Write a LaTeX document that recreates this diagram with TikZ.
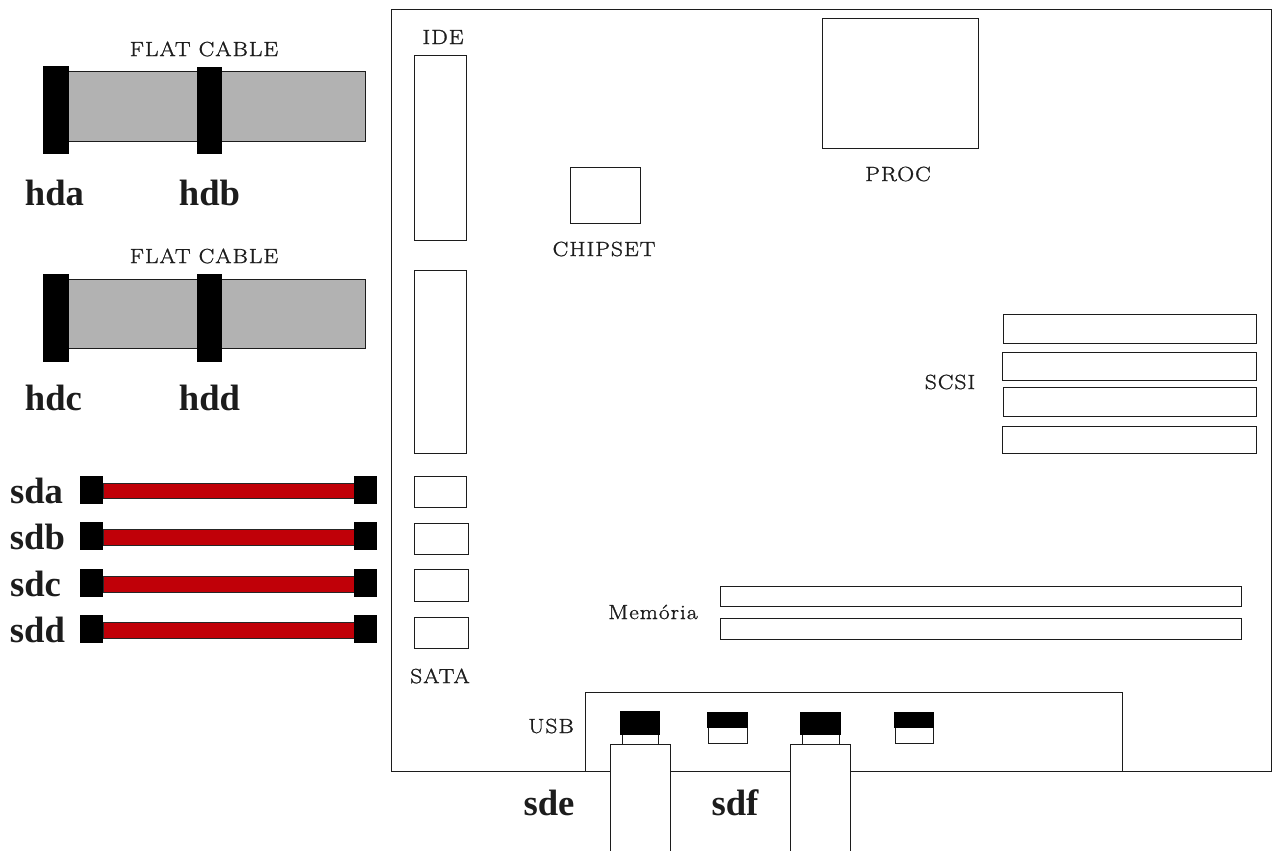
\documentclass[tikz,border=0pt]{standalone}
\usepackage{fontspec}
\newfontfamily\labfont[LetterSpace=5,FakeStretch=1.14,FakeBold=1.2]{Latin Modern Roman}
\newfontfamily\bigfont{Liberation Serif}
\definecolor{inkline}{HTML}{1C1C1C}
\definecolor{cablegrey}{HTML}{B2B2B2}
\definecolor{satared}{HTML}{C00008}
\tikzset{
  px/.style={x=0.75pt,y=-0.75pt},
  part/.style={draw=inkline,line width=0.75pt,fill=white,inner sep=0pt,outer sep=0pt,rectangle},
  plug/.style={fill=black,inner sep=0pt,outer sep=0pt,rectangle},
  flat/.style={part,fill=cablegrey},
  sata/.style={part,draw=black!85,fill=satared},
  lab/.style={inner sep=0pt,text=inkline,font=\labfont\fontsize{15.4pt}{17pt}\selectfont},
  big/.style={inner sep=0pt,text=inkline,font=\bigfont\bfseries\fontsize{27.5pt}{30pt}\selectfont},
}
% name, x1, y1, x2, y2, style
\newcommand{\pxbox}[6]{%
  \pgfmathsetmacro{\pbw}{(#4-#2)*0.75}%
  \pgfmathsetmacro{\pbh}{(#5-#3)*0.75}%
  \node[#6,minimum width=\pbw pt,minimum height=\pbh pt] (#1) at ({(#2+#4)/2},{(#3+#5)/2}) {};%
}
\begin{document}
\begin{tikzpicture}[px]
\useasboundingbox (0,0) rectangle (1273,850);
\clip (0,0) rectangle (1273,850);
% board
\pxbox{board}{391}{9}{1271}{771}{part}
\pxbox{bay}{585}{692}{1122}{771}{part}
\draw[draw=inkline,line width=0.75pt] (board.south west) -- (board.south east);
% flat cables
\pxbox{flatA}{66}{71}{365}{141}{flat}
\pxbox{hdaC}{43}{66}{69}{154}{plug}
\pxbox{hdbC}{197}{67}{222}{154}{plug}
\pxbox{flatB}{66}{279}{365}{348}{flat}
\pxbox{hdcC}{43}{274}{69}{362}{plug}
\pxbox{hddC}{197}{274}{222}{362}{plug}
% sata cables
\pxbox{cabA}{103}{483}{354}{498}{sata}
\pxbox{cabB}{103}{529}{354}{545}{sata}
\pxbox{cabC}{103}{576}{354}{592}{sata}
\pxbox{cabD}{103}{622}{354}{638}{sata}
\pxbox{aL}{80}{476}{103}{504}{plug}
\pxbox{aR}{354}{476}{377}{504}{plug}
\pxbox{bL}{80}{522}{103}{550}{plug}
\pxbox{bR}{354}{522}{377}{550}{plug}
\pxbox{cL}{80}{569}{103}{597}{plug}
\pxbox{cR}{354}{569}{377}{597}{plug}
\pxbox{dL}{80}{615}{103}{643}{plug}
\pxbox{dR}{354}{615}{377}{643}{plug}
% board slots
\pxbox{ideA}{414}{55}{466}{240}{part}
\pxbox{ideB}{414}{270}{466}{453}{part}
\pxbox{sataA}{414}{476}{466}{507}{part}
\pxbox{sataB}{414}{523}{468}{554}{part}
\pxbox{sataC}{414}{569}{468}{601}{part}
\pxbox{sataD}{414}{617}{468}{648}{part}
\pxbox{chipset}{570}{167}{640}{223}{part}
\pxbox{proc}{822}{18}{978}{148}{part}
\pxbox{scsiA}{1003}{314}{1256}{343}{part}
\pxbox{scsiB}{1002}{352}{1256}{380}{part}
\pxbox{scsiC}{1003}{387}{1256}{416}{part}
\pxbox{scsiD}{1002}{426}{1256}{453}{part}
\pxbox{memA}{720}{586}{1241}{606}{part}
\pxbox{memB}{720}{618}{1241}{639}{part}
% usb ports
\pxbox{portAw}{622}{733}{658}{746}{part}
\pxbox{portAb}{620}{711}{660}{735}{plug}
\pxbox{portBw}{708}{726}{747}{743}{part}
\pxbox{portBb}{707}{712}{748}{728}{plug}
\pxbox{portCw}{802}{733}{839}{746}{part}
\pxbox{portCb}{800}{712}{841}{735}{plug}
\pxbox{portDw}{895}{726}{933}{743}{part}
\pxbox{portDb}{894}{712}{934}{728}{plug}
% usb plugs
\pxbox{plugE}{610}{744}{670}{870}{part}
\pxbox{plugF}{790}{744}{850}{870}{part}
% labels
\node[lab] (l1) at (204,49) {FLAT CABLE};
\node[lab] (l2) at (204,256) {FLAT CABLE};
\node[lab] (l3) at (443,37) {IDE};
\node[lab] (l4) at (898,174) {PROC};
\node[lab] (l5) at (604,249) {CHIPSET};
\node[lab] (l6) at (950,382) {SCSI};
\node[lab] (l7) at (653,612) {Memória};
\node[lab] (l8) at (440,676) {SATA};
\node[lab] (l9) at (551,726) {USB};
\node[big] (hda) at (54.5,193) {hda};
\node[big] (hdb) at (209.5,193) {hdb};
\node[big] (hdc) at (53.5,398) {hdc};
\node[big] (hdd) at (209.5,398) {hdd};
\node[big] (sda) at (36.5,491) {sda};
\node[big] (sdb) at (37.5,537) {sdb};
\node[big] (sdc) at (35.5,584) {sdc};
\node[big] (sdd) at (37.5,630) {sdd};
\node[big] (sde) at (549,803) {sde};
\node[big] (sdf) at (735,803) {sdf};
\end{tikzpicture}
\end{document}
